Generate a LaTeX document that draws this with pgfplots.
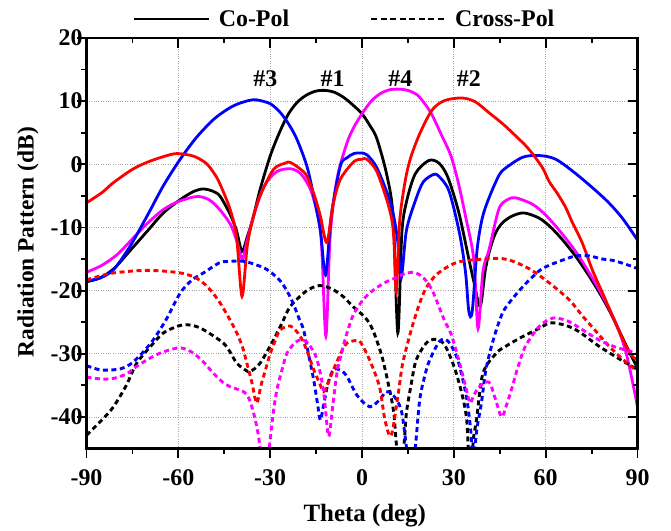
\documentclass[border=0pt]{standalone}
\usepackage{fontspec}
\setmainfont{Liberation Serif}
\usepackage{pgfplots}
\pgfplotsset{compat=1.18}
\definecolor{mag}{RGB}{255,0,255}
\definecolor{rd}{RGB}{255,0,0}
\definecolor{bl}{RGB}{0,0,255}

\pgfplotsset{
  pat/.style={line width=2.8bp, smooth},
  xp/.style={line width=2.9bp, smooth, dash pattern=on 5bp off 3.5bp},
  frame/.style={
    width=551bp, height=410.5bp, scale only axis,
    xmin=-90, xmax=90, ymin=-45, ymax=20,
    xtick={-90,-60,...,90}, ytick={-40,-30,...,20},
    minor x tick num=1, minor y tick num=1,
    major tick length=9.5bp, minor tick length=5bp,
    axis line style={line width=2.5bp},
    every tick/.style={black, line width=1.8bp},
    /pgf/number format/assume math mode=true,
    tick label style={font=\bfseries\fontsize{24}{24}\selectfont},
  },
}

\begin{document}
\begin{tikzpicture}
\useasboundingbox (-86.5bp,-82.5bp) rectangle (584.5bp,448.5bp);
\begin{axis}[frame,
  tick align=outside, xtick pos=bottom, ytick pos=left,
  xticklabel style={yshift=-8bp}, yticklabel style={xshift=9bp},
  grid=major, grid style={dotted, gray!70, line width=0.7bp},
  xlabel={Theta (deg)}, ylabel={Radiation Pattern (dB)},
  xlabel style={font=\bfseries\fontsize{25}{25}\selectfont,
    at={(axis description cs:0.505,-0.163)}, anchor=center},
  ylabel style={font=\bfseries\fontsize{23.5}{23.5}\selectfont,
    at={(axis description cs:-0.106,0.503)}, anchor=center},
  legend style={at={(axis description cs:0.0844,1.0463)}, anchor=west,
    draw=none, fill=none, inner sep=0pt, outer sep=0pt,
    nodes={inner sep=0pt}, font=\bfseries\fontsize{24}{24}\selectfont},
  legend columns=2,
  legend image code/.code={\draw[#1] (0bp,0bp) -- (75bp,0bp);},
  legend cell align=left,
  /tikz/every odd column/.append style={column sep=8bp},
  /tikz/every even column/.append style={column sep=81bp},
]
\addlegendimage{black, line width=2.8bp}
\addlegendentry{Co-Pol}
\addlegendimage{black, line width=2bp, dash pattern=on 6bp off 3.5bp}
\addlegendentry{Cross-Pol}

% co-pol #1 (black)
\addplot[pat, black] coordinates {
(-90,-18.6) (-85.6,-18) (-81,-16.5) (-76,-13.8) (-70,-10.5) (-64.9,-7.7)
(-59.4,-5.6) (-55,-4.3) (-51.8,-3.9) (-48.5,-4.3) (-46.3,-5.1) (-43,-8)
(-41,-10.5) (-39.2,-13.8) (-37.5,-11.5) (-35.7,-8.7) (-33.3,-4.0) (-30,1.3)
(-27,5.0) (-24,8.0) (-21,9.9) (-18,11.0) (-15,11.6) (-12,11.7) (-9,11.4)
(-6,10.6) (-3,9.4) (0,8.0) (2.5,6.2) (4.9,4.0) (8.2,-1.9) (10.2,-8.5)
(11.7,-26.7) (13,-11) (14.5,-6) (17.4,-1.5) (21.8,0.6) (25.1,0.2) (28,-2)
(31.6,-7.6) (34.9,-15) (36.5,-18.5) (38.6,-22.5) (40.2,-17) (41.5,-14)
(43.5,-11) (45.8,-9.3) (49,-8.2) (52.9,-7.7) (57.8,-8.5) (61.5,-9.9)
(65.4,-11.9) (70,-14.7) (74.2,-17.7) (78,-20.7) (81.8,-24.1) (86.2,-28.6)
(90,-32.3)};

% co-pol #4 (magenta)
\addplot[pat, mag] coordinates {
(-90,-17.1) (-85,-16) (-80,-14.3) (-75,-11.8) (-70,-9.3) (-65,-7.2)
(-60,-5.9) (-54,-5.1) (-50,-5.6) (-46.6,-7.1) (-43,-9.5) (-41,-12)
(-39.1,-15) (-37.5,-12) (-35,-7.5) (-32,-3.5) (-28,-1.2) (-23.4,-0.7)
(-20,-1.5) (-17,-3.8) (-15,-7) (-13.3,-12) (-11.8,-27.2) (-10.4,-11.4)
(-8.2,-2.4) (-4.9,3.4) (-2.5,6.0) (0,8.0) (3,10.0) (6,11.2) (9,11.8)
(12,11.9) (15,11.7) (18,11.0) (20.5,9.6) (22.9,7.8) (26,4.6) (29,1.4)
(31.5,-3) (33.8,-8.2) (36.5,-15) (37.9,-26) (39.5,-17) (41.5,-13.5)
(44.7,-7.1) (47.5,-5.6) (50.2,-5.3) (55.6,-6.3) (59.5,-7.8) (63.3,-9.8)
(67,-12) (70.9,-14.6) (77.4,-19.8) (82.9,-25.1) (86.5,-30.3) (90,-38.4)};

% co-pol #3 (blue)
\addplot[pat, bl] coordinates {
(-90,-18.5) (-85.6,-18) (-81.2,-16.7) (-75.8,-13) (-70,-8) (-64.9,-3.4)
(-59.4,0.8) (-54,4.3) (-48.5,7.1) (-44,8.7) (-40.9,9.5) (-37,10.1)
(-34.4,10.2) (-30,9.6) (-26.7,8.2) (-24,6.4) (-21.3,4.0) (-18,-0.3)
(-15.8,-5.0) (-13.6,-10.5) (-11.9,-17.5) (-10,-8) (-7.1,-0.3) (-5,1)
(-2.7,1.7) (-0.5,1.8) (1.6,1.5) (4.9,-0.6) (9.3,-6.1) (11.5,-11.5)
(12.8,-18) (14.5,-10.5) (17.4,-5.8) (20,-2.8) (23.4,-1.6) (25.1,-1.9)
(28.4,-4.2) (31.8,-10.8) (33.8,-17) (34.9,-23.3) (36,-23.3) (37.6,-13.5)
(39.3,-8.5) (41.5,-5.3) (44.7,-1.8) (46.9,-0.6) (52.4,1.1) (57.5,1.4)
(63.3,0.8) (70.9,-1.9) (79.6,-5.6) (85,-8.5) (90,-12)};

% co-pol #2 (red)
\addplot[pat, rd] coordinates {
(-90,-6.1) (-85,-4.5) (-81.2,-2.9) (-75,-0.8) (-70.3,0.3) (-65,1.2)
(-60.5,1.7) (-55.1,1.3) (-51,0.2) (-48.5,-1.3) (-46.6,-2.9) (-43.1,-7.1)
(-41,-11.5) (-39.2,-20.9) (-37.5,-13) (-35.7,-8.7) (-33.3,-5) (-28.9,-0.8)
(-25,0.2) (-23.4,0.3) (-20,-0.8) (-18,-1.9) (-15.5,-5) (-13.6,-8.2)
(-11.5,-12.4) (-9.5,-6.5) (-7.1,-2.4) (-2.7,0.4) (0,0.8) (1.6,0.8)
(4.9,-1.2) (8.8,-6.8) (10.3,-11) (11.2,-20.1) (12.3,-9) (14.2,-2.4)
(16,1.2) (19,5) (22.9,8.6) (27,10.1) (32.7,10.5) (37,9.9) (41.4,8.2)
(46,6.4) (50.2,4.5) (54.5,2.4) (58.9,-0.5) (61.1,-2.7) (63.8,-4.6)
(66.5,-6.8) (68.7,-9.2) (72,-12.5) (75.3,-16.8) (78.5,-20.3) (81.8,-24)
(84.5,-27) (87,-29.5) (88.5,-30.5) (90,-31)};

% cross-pol #1 (black)
\addplot[xp, black] coordinates {
(-90,-42.9) (-85,-40.5) (-81.2,-38.4) (-77,-35) (-73.6,-31.5) (-69,-28.8)
(-64.9,-26.7) (-60,-25.6) (-57.3,-25.4) (-54,-25.7) (-50.7,-26.5)
(-45.3,-28.3) (-43,-29.8) (-40.9,-31.5) (-38,-32.6) (-36.5,-32.8)
(-33.3,-31.5) (-28.9,-27.8) (-26,-25) (-23.4,-22.5) (-18.3,-20.1)
(-13.9,-19.2) (-9.6,-19.8) (-6,-21) (-3,-22.5) (1.1,-24.3) (3.5,-26.2)
(6.5,-30.4) (9,-35.7) (10.4,-39.4) (11.2,-44.2) (12.5,-50) (13.8,-44)
(14.5,-39.4) (16,-35) (17.7,-31) (21,-28.3) (23.7,-27.7) (27,-28.6)
(30.8,-33.1) (34.1,-40) (35.2,-50) (36.5,-43) (37.4,-40.5) (39.5,-33.1)
(43.9,-29.9) (47,-28.8) (52,-27.4) (57.8,-26) (61.5,-25.1) (66.5,-25.5)
(70.9,-26.5) (77.4,-28.8) (84,-30.8) (90,-32.5)};

% cross-pol #3 (blue)
\addplot[xp, bl] coordinates {
(-90,-31.9) (-86,-32.5) (-83.4,-32.6) (-79,-32.4) (-75.8,-31.7) (-72,-30)
(-68.2,-27.8) (-64,-24.6) (-59.4,-20.4) (-55.5,-18.3) (-51.8,-17.2)
(-46.6,-15.6) (-44.2,-15.4) (-40,-15.3) (-37.9,-15.4) (-33,-16.2)
(-30.3,-16.9) (-27,-18.3) (-24.8,-19.8) (-22.6,-21.9) (-20.5,-24.5)
(-19.1,-26.2) (-17.5,-30) (-15.8,-34.1) (-14.5,-38) (-13.6,-40.5)
(-12.5,-38) (-11,-34.5) (-9.3,-32.5) (-7,-32.6) (-4.9,-33.6) (-1.6,-36.6)
(2.5,-38.4) (5.7,-37.3) (7.9,-36) (10.1,-36.5) (12.8,-38.9) (14.5,-44.7)
(15.8,-50) (17.2,-46) (18.8,-37.5) (20.5,-33.5) (22.1,-31) (25.4,-28)
(28.1,-28) (31.3,-31) (34.1,-36.8) (35.5,-42) (36.3,-47) (37.5,-42)
(39,-37.8) (40.3,-33) (41.7,-29.9) (43.9,-26.2) (46.5,-23) (52.3,-19.5)
(57.8,-16.9) (61.1,-16) (66.5,-15) (70,-14.5) (74.2,-14.5) (78.5,-15)
(81.8,-15.2) (86,-15.8) (90,-16.5)};

% cross-pol #2 (red)
\addplot[xp, rd] coordinates {
(-90,-18.3) (-85,-17.6) (-81.2,-17.2) (-75,-16.9) (-70.3,-16.8) (-65,-16.9)
(-59.4,-17.2) (-55,-17.8) (-51.8,-18.8) (-49,-20.2) (-46.3,-22) (-43.5,-24.3)
(-40.9,-26.7) (-39,-29) (-37.6,-31.5) (-36,-34.5) (-34.4,-37.8) (-33,-35)
(-31.5,-32.5) (-30,-30) (-28,-27.5) (-26.7,-26.2) (-23.4,-25.6) (-20.2,-27.2)
(-18,-29.5) (-15.8,-32.5) (-14,-34.5) (-12.5,-36) (-11,-34.5) (-9.3,-32.5)
(-7,-30) (-4.9,-28.3) (-1.6,-27.9) (-0.3,-28.3) (2.5,-31) (5.7,-35.2)
(7.5,-40.5) (9.5,-43) (11.7,-36.8) (13.3,-31.5) (16.1,-26.2) (18.4,-22.6)
(20.7,-19.8) (24,-17.6) (28.4,-16.1) (32,-15.4) (37.1,-15.1) (44.7,-14.9)
(49,-15.3) (54.5,-16.5) (58.5,-17.8) (63.3,-19.6) (68,-21.6) (72,-24)
(76,-26.2) (80.7,-28.8) (85,-30.8) (90,-32.8)};

% cross-pol #4 (magenta)
\addplot[xp, mag] coordinates {
(-90,-33.7) (-85,-34) (-81.2,-33.9) (-77,-33.2) (-73.6,-32) (-70,-30.9)
(-66,-29.9) (-60.5,-29.1) (-58,-29.2) (-55.1,-29.9) (-52,-31.2) (-48.5,-33.1)
(-45.5,-34.5) (-43.1,-35.2) (-38.7,-36) (-37,-37) (-35.4,-39.4) (-34,-42.5)
(-32.7,-47) (-31.5,-50) (-30,-43.6) (-28.9,-39) (-27.8,-35.7) (-26,-32.3)
(-24.5,-29.9) (-22,-28.3) (-20.2,-27.8) (-18.5,-28) (-16.9,-28.8) (-15,-30.5)
(-13.6,-33.1) (-12.3,-37) (-10.9,-43.1) (-9.5,-38) (-8.2,-33.1) (-6.5,-29.5)
(-4.9,-26.7) (-3,-24) (-0.5,-22) (2,-20.6) (4.9,-19.5) (8,-18.6) (10.9,-18)
(13.5,-17.4) (16.4,-17.1) (18.5,-17.4) (20.7,-18.3) (23,-20) (25.1,-22.5)
(27,-24.8) (29.2,-27) (31.9,-31.5) (34.1,-35.7) (35.3,-37.8) (36.5,-36.6)
(38.4,-35.2) (41.5,-34.5) (43.6,-37.2) (45.6,-40) (47.3,-38) (49.1,-35.2)
(51,-32) (53.4,-28.8) (57.8,-25.7) (61.1,-24.6) (63.3,-24.3) (67.6,-24.9)
(72,-26.2) (77.4,-27.8) (82,-28.8) (86.1,-29.4) (90,-29.9)};

\begin{scope}[every node/.style={font=\bfseries\fontsize{24}{24}\selectfont}]
\node at (axis cs:-31.6,13.6) {\#3};
\node at (axis cs:-9.6,13.6) {\#1};
\node at (axis cs:12.5,13.6) {\#4};
\node at (axis cs:34.9,13.6) {\#2};
\end{scope}
\end{axis}

\begin{axis}[frame, tick align=inside, xtick pos=top, ytick pos=right,
  xticklabels={}, yticklabels={}]
\end{axis}
\end{tikzpicture}
\end{document}
